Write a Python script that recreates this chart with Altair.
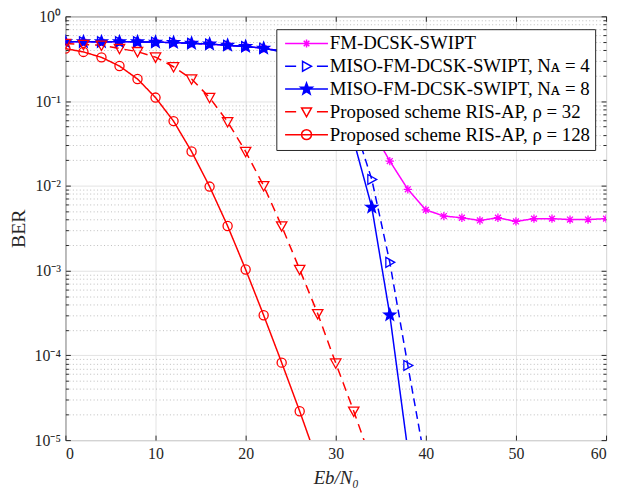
import math
import json
import altair as alt
import pandas as pd

# ---------------- data ----------------
SNR_DB = list(range(0, 62, 2))

SERIES = [
    "FM-DCSK-SWIPT",
    "MISO-FM-DCSK-SWIPT, Nᴀ = 4",
    "MISO-FM-DCSK-SWIPT, Nᴀ = 8",
    "Proposed scheme RIS-AP, ρ = 32",
    "Proposed scheme RIS-AP, ρ = 128",
]

BER_FM_DCSK = [0.5, 0.5, 0.5, 0.5, 0.5, 0.495, 0.49, 0.48, 0.47, 0.455, 0.44,
               0.42, 0.39, 0.35, 0.27, 0.18, 0.10, 0.046, 0.0196, 0.0091, 0.0052,
               0.0044, 0.0042, 0.0039, 0.0042, 0.0038, 0.0041, 0.0041, 0.0040,
               0.0040, 0.0041]
BER_MISO_4 = [0.5, 0.5, 0.5, 0.5, 0.5, 0.495, 0.49, 0.48, 0.47, 0.455, 0.44,
              0.42, 0.39, 0.33, 0.24, 0.14, 0.055, 0.0119, 0.00125, 7.6e-5, 5e-6]
BER_MISO_8 = [0.5, 0.5, 0.5, 0.5, 0.5, 0.495, 0.49, 0.48, 0.47, 0.455, 0.44,
              0.42, 0.38, 0.31, 0.21, 0.105, 0.034, 0.0056, 3.0e-4, 7.6e-6]
BER_RIS_32 = [0.478, 0.465, 0.455, 0.417, 0.383, 0.33, 0.254, 0.182, 0.11,
              0.057, 0.0254, 0.0100, 0.00336, 0.00103, 3.1e-4, 8.1e-5, 2.19e-5,
              5.5e-6]
BER_RIS_128 = [0.416, 0.38, 0.328, 0.259, 0.182, 0.110, 0.058, 0.0254, 0.0098,
               0.00336, 0.00103, 2.97e-4, 8.2e-5, 2.19e-5, 5.5e-6]

X_TICKS = [0, 10, 20, 30, 40, 50, 60]
Y_TICKS = [1e-5, 1e-4, 1e-3, 1e-2, 1e-1, 1]
Y_TICK_LABELS = ["10⁻⁵", "10⁻⁴", "10⁻³", "10⁻²", "10⁻¹", "10⁰"]
Y_MINOR = [m * 10.0 ** k for k in range(-5, 0) for m in range(2, 10)]

X_TITLE = "Eb/N₀"
Y_TITLE = "BER"

# ---------------- styles ----------------
COLORS = ["#ff00ff", "#0000ff", "#0000ff", "#ff0000", "#ff0000"]
DASHES = [[1, 0], [8, 5], [1, 0], [9, 6], [1, 0]]
FILLS = ["transparent", "transparent", "#0000ff", "transparent", "transparent"]


def star_path(scale=1.0, inner=0.42):
    pts = []
    for k in range(10):
        a = math.radians(-90 + 36 * k)
        r = scale if k % 2 == 0 else scale * inner
        pts.append(f"{r * math.cos(a):.3f},{r * math.sin(a):.3f}")
    return "M" + "L".join(pts) + "Z"


def solid_star_path(scale=1.0, step=0.17):
    # concentric outlines, so that a stroked-only legend symbol looks filled
    parts = []
    s = scale
    while s > 0.05:
        parts.append(star_path(s))
        s -= step
    return "".join(parts)


def asterisk_path(s=1.0):
    d = round(s * 0.7071, 3)
    return f"M0,{-s}L0,{s}M{-s},0L{s},0M{-d},{-d}L{d},{d}M{-d},{d}L{d},{-d}"


TRI_RIGHT = "M-0.8,-1L1,0L-0.8,1Z"
TRI_DOWN = "M-1,-0.8L1,-0.8L0,1Z"
CIRCLE = "M1,0A1,1,0,1,1,-1,0A1,1,0,1,1,1,0Z"

MARKERS = [asterisk_path(1.0), TRI_RIGHT, star_path(1.0), TRI_DOWN, CIRCLE]
MARKER_SIZES = [70, 100, 160, 110, 85]

LINE_SOLID = "M-4.33,0L4.33,0"
LINE_DASH = "M-4.33,0L-2.1,0M2.1,0L4.33,0"
LEGEND_SYMBOLS = [
    LINE_SOLID + asterisk_path(0.8),
    LINE_DASH + TRI_RIGHT,
    LINE_SOLID + solid_star_path(1.25),
    LINE_DASH + TRI_DOWN,
    LINE_SOLID + CIRCLE,
]

FONT = "Liberation Serif"
AXIS_COLOR = "#262626"

# ---------------- table ----------------
rows = []
for name, vals, msize in zip(SERIES, [BER_FM_DCSK, BER_MISO_4, BER_MISO_8, BER_RIS_32, BER_RIS_128], MARKER_SIZES):
    for x, v in zip(SNR_DB, vals):
        rows.append({"snr": x, "ber": v, "series": name, "msize": msize})
df = pd.DataFrame(rows)

x_scale = alt.Scale(domain=[0, 60], nice=False, zero=False)
y_scale = alt.Scale(type="log", domain=[1e-5, 1], nice=False)

label_expr = (json.dumps(Y_TICK_LABELS, ensure_ascii=False)
              + "[round(log(datum.value)/LN10)+5]")

base = alt.Chart(df)

# lines
lines = base.mark_line(clip=True, strokeWidth=1.5).encode(
    x=alt.X("snr:Q", scale=x_scale,
            axis=alt.Axis(orient="bottom", values=X_TICKS, offset=-5, tickSize=5,
                          tickColor=AXIS_COLOR, labelPadding=6, grid=True,
                          gridColor="#e3e3e3", gridWidth=1, title=X_TITLE,
                          titleFontStyle="italic", titleFontSize=19,
                          titlePadding=7, labelFontSize=16, labelFont=FONT,
                          titleFont=FONT)),
    y=alt.Y("ber:Q", scale=y_scale,
            axis=alt.Axis(orient="left", values=Y_TICKS, offset=-5, tickSize=5,
                          tickColor=AXIS_COLOR, labelExpr=label_expr,
                          labelPadding=5, grid=True, gridColor="#e3e3e3",
                          gridWidth=1, title=Y_TITLE, titleFontSize=20,
                          titlePadding=6, labelFontSize=16, labelFont=FONT,
                          titleFont=FONT)),
    color=alt.Color("series:N", scale=alt.Scale(domain=SERIES, range=COLORS), legend=None),
    strokeDash=alt.StrokeDash("series:N", scale=alt.Scale(domain=SERIES, range=DASHES), legend=None),
)

# markers
points = base.mark_point(clip=True, filled=True, strokeWidth=1.3, opacity=1).encode(
    x=alt.X("snr:Q", scale=x_scale,
            axis=alt.Axis(orient="top", values=X_TICKS, offset=-5, tickSize=5,
                          tickColor=AXIS_COLOR, labels=False, grid=False, title=None)),
    y=alt.Y("ber:Q", scale=y_scale,
            axis=alt.Axis(orient="right", values=Y_TICKS, offset=-5, tickSize=5,
                          tickColor=AXIS_COLOR, labels=False, grid=False, title=None)),
    stroke=alt.Stroke("series:N", scale=alt.Scale(domain=SERIES, range=COLORS), legend=None),
    fill=alt.Fill("series:N", scale=alt.Scale(domain=SERIES, range=FILLS), legend=None),
    shape=alt.Shape("series:N", scale=alt.Scale(domain=SERIES, range=MARKERS), legend=None),
    size=alt.Size("msize:Q", scale=None, legend=None),
)

# invisible layer carrying the legend and the left minor grid
legend_layer = base.mark_point(clip=True, filled=False, opacity=0, size=100).encode(
    x=alt.X("snr:Q", scale=x_scale, axis=None),
    y=alt.Y("ber:Q", scale=y_scale,
            axis=alt.Axis(orient="left", values=Y_MINOR, offset=-3, tickSize=3,
                          tickColor=AXIS_COLOR, labels=False, grid=True,
                          gridColor="#bdbdbd", gridDash=[1, 2.5], gridWidth=1,
                          title=None)),
    stroke=alt.Stroke("series:N", scale=alt.Scale(domain=SERIES, range=COLORS),
                      legend=alt.Legend(title=None, orient="none", legendX=213, legendY=13,
                                        fillColor="white", strokeColor=AXIS_COLOR,
                                        padding=5, rowPadding=3, labelFont=FONT,
                                        labelFontSize=19, labelColor="black",
                                        labelLimit=500, symbolSize=100,
                                        symbolStrokeWidth=1.5, symbolOffset=16,
                                        labelOffset=14, symbolOpacity=1)),
    shape=alt.Shape("series:N", scale=alt.Scale(domain=SERIES, range=LEGEND_SYMBOLS),
                    legend=alt.Legend(title=None, orient="none", legendX=213, legendY=13)),
)

# invisible layer carrying the right minor ticks
right_minor = base.mark_point(clip=True, opacity=0).encode(
    x=alt.X("snr:Q", scale=x_scale, axis=None),
    y=alt.Y("ber:Q", scale=y_scale,
            axis=alt.Axis(orient="right", values=Y_MINOR, offset=-3, tickSize=3,
                          tickColor=AXIS_COLOR, labels=False, grid=False, title=None)),
)

chart = (
    alt.layer(lines, points, legend_layer, right_minor)
    .resolve_scale(stroke="independent", fill="independent", shape="independent")
    .resolve_axis(x="independent", y="independent")
    .properties(width=546, height=428,
                padding={"left": 58, "top": 6, "right": 5, "bottom": 47},
                autosize=alt.AutoSizeParams(type="none"),
                background="white")
    .configure_view(stroke=AXIS_COLOR, strokeWidth=1)
    .configure_axis(labelFont=FONT, titleFont=FONT, labelColor=AXIS_COLOR,
                    titleColor=AXIS_COLOR, titleFontWeight="normal", domain=False)
)

chart.save("out.html", embed_options={"renderer": "svg", "actions": False})
